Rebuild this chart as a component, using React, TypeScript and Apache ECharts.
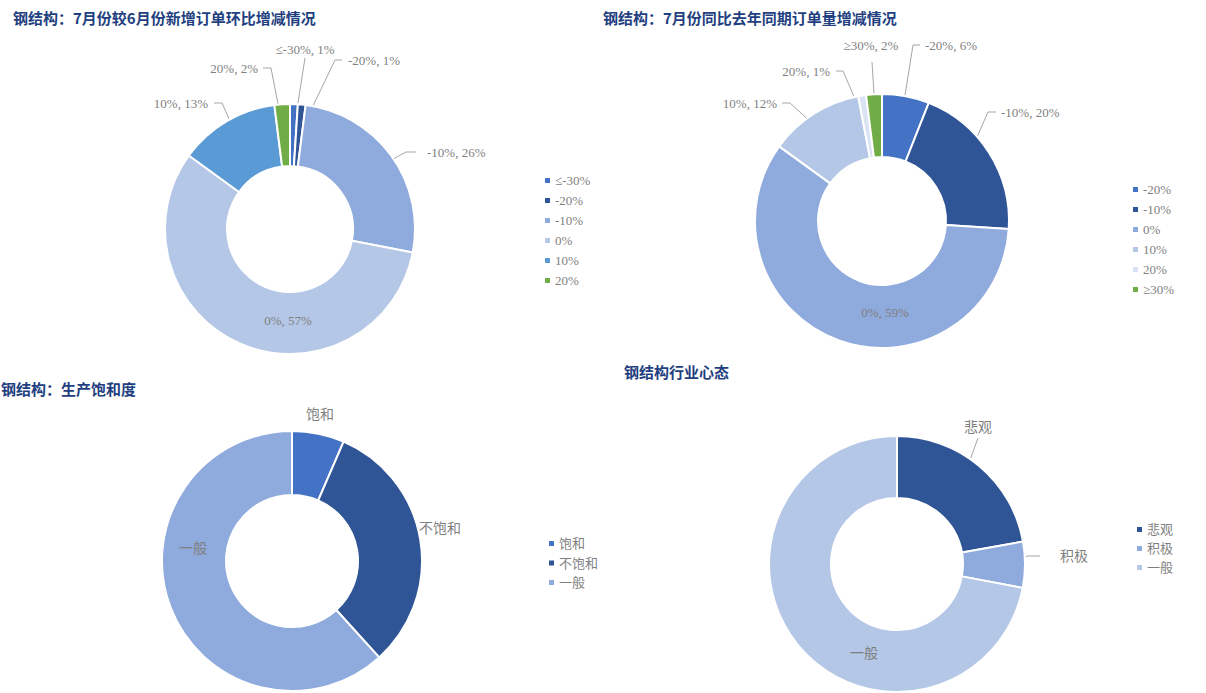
import React, { useEffect, useRef } from 'react';
import * as echarts from 'echarts';

// ---------- data ----------
const momCategories = ['≤-30%', '-20%', '-10%', '0%', '10%', '20%'];
const momValues = [1, 1, 26, 57, 13, 2];

const yoyCategories = ['-20%', '-10%', '0%', '10%', '20%', '≥30%'];
const yoyValues = [6, 20, 59, 12, 1, 2];

const capCategories = ['饱和', '不饱和', '一般'];
const capValues = [6.5, 31.8, 61.7];

const moodCategories = ['悲观', '积极', '一般'];
const moodValues = [22.2, 5.8, 72.0];

const titles = [
  '钢结构：7月份较6月份新增订单环比增减情况',
  '钢结构：7月份同比去年同期订单量增减情况',
  '钢结构：生产饱和度',
  '钢结构行业心态',
];

// ---------- styles ----------
const BLUE = '#4472C4';
const DARK = '#2F5597';
const MID = '#8FAADC';
const LIGHT = '#B4C7E7';
const SKY = '#5B9BD5';
const GREEN = '#70AD47';
const PALE = '#DAE3F3';

const momColors = [BLUE, DARK, MID, LIGHT, SKY, GREEN];
const yoyColors = [BLUE, DARK, MID, LIGHT, PALE, GREEN];
const capColors = [BLUE, DARK, MID];
const moodColors = [DARK, MID, LIGHT];

const LABEL_COLOR = '#7F7F7F';
const LINE_COLOR = '#A6A6A6';
const FONT = "'Liberation Serif', 'Noto Sans CJK SC', serif";
const TITLE_COLOR = '#1F3F80';

type Guide = [number, number][];
interface LabelSpec { x: number; y: number; align: 'left' | 'center' | 'right'; guide?: Guide }

interface PieLayout {
  cx: number; cy: number; r: number; R: number;
  legendLeft: number; legendTop: number; legendGap: number;
  titleLeft: number; titleTop: number;
  labels: LabelSpec[];
  labelSize: number;
}

const layouts: PieLayout[] = [
  {
    cx: 290, cy: 229, r: 63, R: 125,
    legendLeft: 543, legendTop: 174, legendGap: 7,
    titleLeft: 13, titleTop: 10, labelSize: 13,
    labels: [
      { x: 305, y: 49, align: 'center', guide: [[305, 58]] },
      { x: 348, y: 60, align: 'left', guide: [[342, 60], [335, 60]] },
      { x: 427, y: 152, align: 'left', guide: [[416, 152], [406, 152]] },
      { x: 288, y: 320, align: 'center' },
      { x: 208, y: 103, align: 'right', guide: [[214, 103], [222, 103]] },
      { x: 258, y: 68, align: 'right', guide: [[263, 68], [271, 68]] },
    ],
  },
  {
    cx: 882, cy: 221, r: 64, R: 127,
    legendLeft: 1131, legendTop: 183, legendGap: 7,
    titleLeft: 603, titleTop: 10, labelSize: 13,
    labels: [
      { x: 925, y: 45, align: 'left', guide: [[920, 45], [913, 45]] },
      { x: 1001, y: 112, align: 'left', guide: [[996, 112], [988, 112]] },
      { x: 885, y: 312, align: 'center' },
      { x: 777, y: 103, align: 'right', guide: [[782, 103], [790, 103]] },
      { x: 830, y: 71, align: 'right', guide: [[836, 71], [843, 71]] },
      { x: 871, y: 45, align: 'center', guide: [[872, 62]] },
    ],
  },
  {
    cx: 292, cy: 561, r: 66, R: 130,
    legendLeft: 547, legendTop: 537, legendGap: 6.5,
    titleLeft: 1, titleTop: 381, labelSize: 14,
    labels: [
      { x: 320, y: 414, align: 'center' },
      { x: 419, y: 528, align: 'left' },
      { x: 179, y: 548, align: 'left' },
    ],
  },
  {
    cx: 897, cy: 564, r: 66, R: 128,
    legendLeft: 1135, legendTop: 523, legendGap: 6,
    titleLeft: 624, titleTop: 364, labelSize: 14,
    labels: [
      { x: 978, y: 427, align: 'center', guide: [[978, 438]] },
      { x: 1060, y: 556, align: 'left', guide: [[1040, 556], [1028, 556]] },
      { x: 850, y: 653, align: 'left' },
    ],
  },
];

const charts = [
  { names: momCategories, values: momValues, colors: momColors, withValue: true },
  { names: yoyCategories, values: yoyValues, colors: yoyColors, withValue: true },
  { names: capCategories, values: capValues, colors: capColors, withValue: false },
  { names: moodCategories, values: moodValues, colors: moodColors, withValue: false },
];

function midAnchor(values: number[], idx: number, L: PieLayout): [number, number] {
  const total = values.reduce((a, b) => a + b, 0);
  let before = 0;
  for (let i = 0; i < idx; i++) before += values[i];
  const mid = (before + values[idx] / 2) / total;
  const theta = mid * Math.PI * 2;
  const rm = (L.r + L.R) / 2;
  return [L.cx + rm * Math.sin(theta), L.cy - rm * Math.cos(theta)];
}

function buildOption() {
  const title = titles.map((t, i) => ({
    text: t,
    left: layouts[i].titleLeft,
    top: layouts[i].titleTop,
    padding: 0,
    textStyle: { fontSize: 15, fontWeight: 'bold', color: TITLE_COLOR, fontFamily: "'Noto Sans CJK SC', sans-serif" },
  }));

  const legend = charts.map((c, i) => ({
    orient: 'vertical',
    left: layouts[i].legendLeft,
    top: layouts[i].legendTop,
    padding: 0,
    itemGap: layouts[i].legendGap,
    itemWidth: 7,
    itemHeight: 7,
    icon: 'rect',
    selectedMode: false,
    textStyle: { color: LABEL_COLOR, fontSize: 13, fontFamily: FONT, padding: [0, 0, 0, -1] },
    data: c.names.map((n, k) => ({ name: n, itemStyle: { color: c.colors[k] } })),
  }));

  const series = charts.map((c, i) => {
    const L = layouts[i];
    return {
      type: 'pie',
      center: [L.cx, L.cy],
      radius: [L.r, L.R],
      startAngle: 90,
      clockwise: true,
      avoidLabelOverlap: false,
      emphasis: { disabled: true },
      itemStyle: { borderColor: '#ffffff', borderWidth: 2 },
      label: {
        show: true,
        position: 'outside',
        color: LABEL_COLOR,
        fontSize: L.labelSize,
        fontFamily: FONT,
        formatter: (p: any) => (c.withValue ? `${p.name}, ${p.value}%` : p.name),
      },
      labelLine: { show: true, lineStyle: { color: LINE_COLOR, width: 1 } },
      labelLayout: (p: any) => {
        const spec = L.labels[p.dataIndex];
        const out: any = { x: spec.x, y: spec.y, align: spec.align, verticalAlign: 'middle' };
        if (spec.guide) {
          const a = midAnchor(c.values, p.dataIndex, L);
          out.labelLinePoints = [...spec.guide, a];
        }
        return out;
      },
      data: c.names.map((n, k) => ({
        name: n,
        value: c.values[k],
        itemStyle: { color: c.colors[k] },
        labelLine: { show: !!L.labels[k].guide },
      })),
    };
  });

  return { animation: false, backgroundColor: '#ffffff', title, legend, series };
}

export default function App() {
  const ref = useRef<HTMLDivElement>(null);
  useEffect(() => {
    if (!ref.current) return;
    const chart = echarts.init(ref.current, undefined, { renderer: 'svg' });
    chart.setOption(buildOption() as any);
    return () => chart.dispose();
  }, []);
  return (
    <div
      ref={ref}
      style={{ position: 'fixed', left: 0, top: 0, width: 1206, height: 693, background: '#fff' }}
    />
  );
}
